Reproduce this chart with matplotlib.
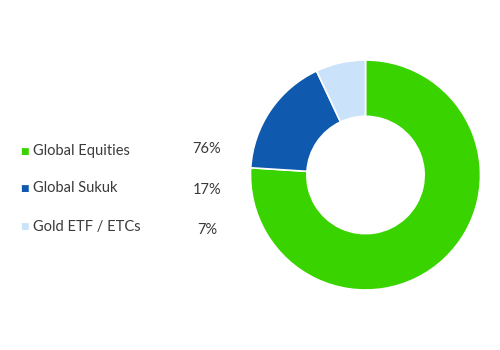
import matplotlib
matplotlib.use("Agg")
import matplotlib.pyplot as plt

categories = ["Global Equities", "Global Sukuk", "Gold ETF / ETCs"]
values = [76, 17, 7]
labels_pct = ["76%", "17%", "7%"]
colors = ["#39D300", "#0F5AAE", "#CBE2FB"]

plt.rcParams['font.family'] = ['Lato', 'DejaVu Sans']

fig = plt.figure(figsize=(5, 3.5), dpi=100)
W, H = 500, 350
cx, cy, r = 365.5, 175, 115
ax = fig.add_axes([(cx - r) / W, 1 - (cy + r) / H, 2 * r / W, 2 * r / H])
ax.pie(values, colors=colors, startangle=90, counterclock=False,
       radius=1.0, wedgeprops=dict(width=0.49, edgecolor="white", linewidth=1.2))
ax.set_xlim(-1, 1)
ax.set_ylim(-1, 1)
ax.set_aspect("equal")
ax.axis("off")

label_y = [151, 188, 227]
pct_y = [149, 190, 230]
for cat, pct, col, ly, py in zip(categories, labels_pct, colors, label_y, pct_y):
    fig.text(20 / W, 1 - ly / H, "\u25A0", color=col, fontsize=6.5, va="center", ha="left",
             family=['DejaVu Sans'])
    fig.text(33 / W, 1 - ly / H, cat, color="#3a3a3a", fontsize=10.5, va="center", ha="left")
    fig.text(207 / W, 1 - py / H, pct, color="#3a3a3a", fontsize=10.5, va="center", ha="center")

fig.savefig("out.png", dpi=100, facecolor="white")
